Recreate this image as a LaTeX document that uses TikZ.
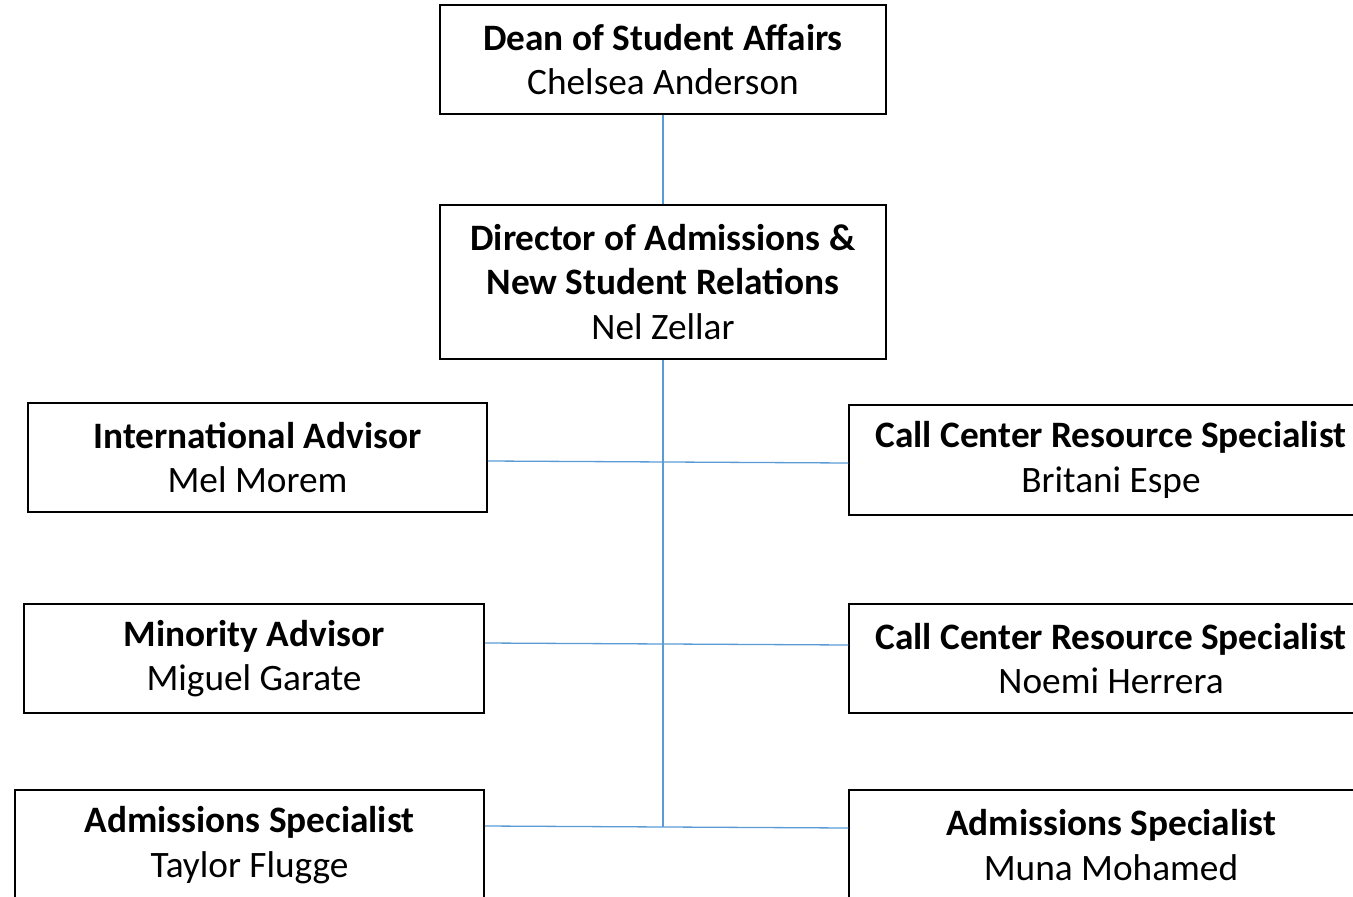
\documentclass[tikz,border=0pt]{standalone}
\usepackage{fontspec}
\setmainfont{Carlito}
\definecolor{conn}{RGB}{91,155,213}
\begin{document}
\begin{tikzpicture}[x=1pt,y=-1pt,
  box/.style={draw=black,line width=1.5pt,inner sep=0pt,align=center,
    font=\fontsize{37.3}{44.5}\selectfont},
  link/.style={draw=conn,line width=1.3pt}]
\useasboundingbox (0,0) rectangle (1353,897);
\clip (0,0) rectangle (1353,897);
\node[box,minimum width=446,minimum height=109] (dean) at (663,59.5)
  {\textbf{Dean of Student Affairs}\\Chelsea Anderson};
\node[box,minimum width=446,minimum height=154] (dir) at (663,282)
  {\textbf{Director of Admissions \&}\\\textbf{New Student Relations}\\Nel Zellar};
\node[box,minimum width=459,minimum height=109] (intl) at (257.5,457.5)
  {\textbf{International Advisor}\\Mel Morem};
\node[box,minimum width=524,minimum height=110] (cc1) at (1111,460)
  {\textbf{Call Center Resource Specialist}\\Britani Espe};
\node[box,minimum width=460,minimum height=109] (mino) at (254,658.5)
  {\textbf{Minority Advisor}\\Miguel Garate};
\node[box,minimum width=524,minimum height=109] (cc2) at (1111,658.5)
  {\textbf{Call Center Resource Specialist}\\Noemi Herrera};
\node[box,minimum width=469,minimum height=110] (adml) at (249.5,845)
  {\textbf{Admissions Specialist}\\Taylor Flugge};
\node[box,minimum width=524,minimum height=110] (admr) at (1111,845)
  {\textbf{Admissions Specialist}\\Muna Mohamed};
\coordinate (trunkend) at (663,827);
\draw[link] (dean.south) -- (dir.north);
\draw[link] (dir.south) -- (trunkend);
\draw[link] ([yshift=-3.5pt]intl.east) -- ([yshift=-3pt]cc1.west);
\draw[link] ([yshift=15.5pt]mino.east) -- ([yshift=13.5pt]cc2.west);
\draw[link] ([yshift=19pt]adml.east) -- ([yshift=17pt]admr.west);
\end{tikzpicture}
\end{document}
